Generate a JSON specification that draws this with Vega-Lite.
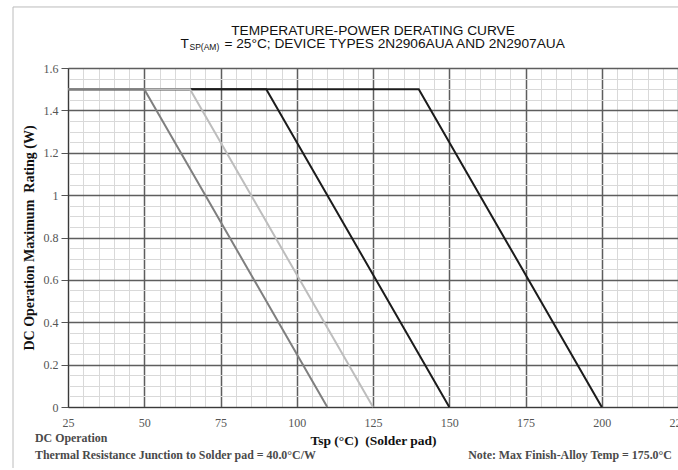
{
  "$schema": "https://vega.github.io/schema/vega-lite/v6.json",
  "width": 610,
  "height": 339,
  "autosize": {"type": "none"},
  "padding": {"left": 68, "top": 68, "right": 0, "bottom": 63},
  "background": "white",
  "config": {
    "view": {"stroke": "#3a3a3a", "strokeWidth": 1},
    "axis": {"labelFont": "Liberation Serif", "labelFontSize": 12, "labelColor": "#555555", "titleFont": "Liberation Serif"}
  },
  "datasets": {
    "curves": [
      {"curve": "knee 140", "temp": 25, "watts": 1.5},
      {"curve": "knee 140", "temp": 140, "watts": 1.5},
      {"curve": "knee 140", "temp": 200, "watts": 0},
      {"curve": "knee 90", "temp": 25, "watts": 1.5},
      {"curve": "knee 90", "temp": 90, "watts": 1.5},
      {"curve": "knee 90", "temp": 150, "watts": 0},
      {"curve": "knee 65", "temp": 25, "watts": 1.5},
      {"curve": "knee 65", "temp": 65, "watts": 1.5},
      {"curve": "knee 65", "temp": 125, "watts": 0},
      {"curve": "knee 50", "temp": 25, "watts": 1.5},
      {"curve": "knee 50", "temp": 50, "watts": 1.5},
      {"curve": "knee 50", "temp": 110, "watts": 0}
    ]
  },
  "layer": [
    {
      "description": "fine grid every 5 degC and 0.05 W",
      "data": {"values": [{}]},
      "mark": {"type": "point", "opacity": 0},
      "encoding": {
        "x": {
          "datum": 25, "type": "quantitative",
          "scale": {"domain": [25, 225], "nice": false, "zero": false},
          "axis": {"orient": "bottom", "values": [25,30,35,40,45,50,55,60,65,70,75,80,85,90,95,100,105,110,115,120,125,130,135,140,145,150,155,160,165,170,175,180,185,190,195,200,205,210,215,220,225],
                   "grid": true, "gridColor": "#d9d9d9", "gridWidth": 1, "labels": false, "ticks": false, "domain": false, "title": null, "zindex": 0}
        },
        "y": {
          "datum": 0, "type": "quantitative",
          "scale": {"domain": [0, 1.6], "nice": false, "zero": true},
          "axis": {"orient": "left", "values": [0,0.05,0.1,0.15,0.2,0.25,0.3,0.35,0.4,0.45,0.5,0.55,0.6,0.65,0.7,0.75,0.8,0.85,0.9,0.95,1,1.05,1.1,1.15,1.2,1.25,1.3,1.35,1.4,1.45,1.5,1.55,1.6],
                   "grid": true, "gridColor": "#d9d9d9", "gridWidth": 1, "labels": false, "ticks": false, "domain": false, "title": null, "zindex": 0}
        }
      }
    },
    {
      "description": "derating curves with the main axes",
      "data": {"name": "curves"},
      "mark": {"type": "line", "strokeWidth": 2},
      "encoding": {
        "x": {
          "field": "temp", "type": "quantitative",
          "axis": {"orient": "bottom", "values": [25,50,75,100,125,150,175,200,225], "format": "d",
                   "grid": true, "gridColor": "#5e5e5e", "gridWidth": 1.5, "ticks": false, "labelFlush": false, "labelPadding": 10,
                   "domain": true, "domainColor": "#3a3a3a",
                   "title": "Tsp (\u00b0C) \u00a0(Solder pad)", "titleFontSize": 13.5, "titleFontWeight": "bold", "titleColor": "#111111", "titlePadding": 5, "zindex": 0}
        },
        "y": {
          "field": "watts", "type": "quantitative",
          "axis": {"orient": "left", "values": [0,0.2,0.4,0.6,0.8,1,1.2,1.4,1.6], "format": "~g",
                   "grid": true, "gridColor": "#5e5e5e", "gridWidth": 1.5, "ticks": true, "tickSize": 7, "tickColor": "#555555", "labelPadding": 3,
                   "domain": true, "domainColor": "#3a3a3a",
                   "title": "DC Operation Maximum \u00a0Rating (W)", "titleFontSize": 14, "titleFontWeight": "bold", "titleColor": "#111111", "titlePadding": 7, "zindex": 0}
        },
        "color": {
          "field": "curve", "type": "nominal", "legend": null,
          "scale": {"domain": ["knee 140", "knee 90", "knee 65", "knee 50"], "range": ["#1c1c1c", "#1c1c1c", "#bdbdbd", "#7f7f7f"]}
        }
      }
    },
    {
      "description": "heading, first line",
      "data": {"values": [{}]},
      "mark": {"type": "text", "font": "Liberation Sans", "fontSize": 13.7, "color": "#111111", "baseline": "alphabetic", "align": "center"},
      "encoding": {
        "x": {"datum": 125, "type": "quantitative", "axis": null},
        "y": {"datum": 1.756, "type": "quantitative", "axis": null},
        "text": {"value": "TEMPERATURE-POWER DERATING CURVE"}
      }
    },
    {
      "description": "heading, second line, main part",
      "data": {"values": [{"label": "T", "px": 64.67, "align": "right"}, {"label": "= 25\u00b0C; DEVICE TYPES 2N2906AUA AND 2N2907AUA", "px": 76.3, "align": "left"}]},
      "mark": {"type": "text", "font": "Liberation Sans", "fontSize": 13.7, "color": "#111111", "baseline": "alphabetic", "align": {"expr": "datum.align"}},
      "encoding": {
        "x": {"field": "px", "type": "quantitative", "axis": null},
        "y": {"datum": 1.693, "type": "quantitative", "axis": null},
        "text": {"field": "label"}
      }
    },
    {
      "description": "heading, second line, subscript",
      "data": {"values": [{}]},
      "mark": {"type": "text", "font": "Liberation Sans", "fontSize": 8.5, "color": "#111111", "baseline": "alphabetic", "align": "left"},
      "encoding": {
        "x": {"datum": 64.84, "type": "quantitative", "axis": null},
        "y": {"datum": 1.685, "type": "quantitative", "axis": null},
        "text": {"value": "SP(AM)"}
      }
    },
    {
      "description": "notes under the chart",
      "data": {"values": [
        {"note": "DC Operation", "nx": 14.18, "ny": -0.165, "align": "left"},
        {"note": "Thermal Resistance Junction to Solder pad = 40.0\u00b0C/W", "nx": 14.18, "ny": -0.245, "align": "left"},
        {"note": "Note: Max Finish-Alloy Temp = 175.0\u00b0C", "nx": 223.0, "ny": -0.245, "align": "right"}
      ]},
      "mark": {"type": "text", "font": "Liberation Serif", "fontSize": 11.9, "fontWeight": "bold", "color": "#4a4a4a", "baseline": "alphabetic", "align": {"expr": "datum.align"}},
      "encoding": {
        "x": {"field": "nx", "type": "quantitative", "axis": null},
        "y": {"field": "ny", "type": "quantitative", "axis": null},
        "text": {"field": "note"}
      }
    },
    {
      "description": "page frame, left edge",
      "data": {"values": [{}]},
      "mark": {"type": "rule", "color": "#bcbcbc", "strokeWidth": 1},
      "encoding": {
        "x": {"datum": 6.97, "type": "quantitative", "axis": null},
        "y": {"datum": -0.288, "type": "quantitative", "axis": null},
        "y2": {"datum": 1.888}
      }
    },
    {
      "description": "page frame, top edge",
      "data": {"values": [{}]},
      "mark": {"type": "rule", "color": "#bcbcbc", "strokeWidth": 1},
      "encoding": {
        "x": {"datum": 6.97, "type": "quantitative", "axis": null},
        "x2": {"datum": 230},
        "y": {"datum": 1.888, "type": "quantitative", "axis": null}
      }
    }
  ],
  "resolve": {"axis": {"x": "independent", "y": "independent"}}
}
